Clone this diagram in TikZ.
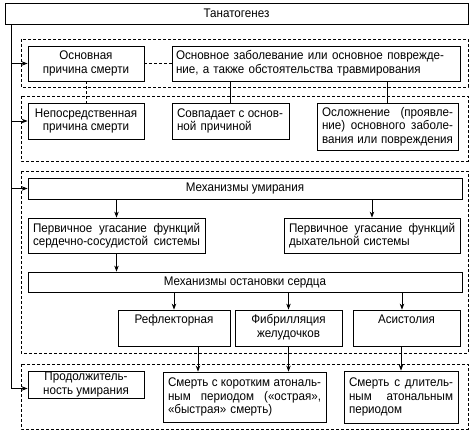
\documentclass[tikz,border=0pt]{standalone}
\usepackage{fontspec}
\setmainfont{Liberation Sans}[FakeStretch=0.93]
\usetikzlibrary{arrows.meta}
\newcommand\jl[2]{\makebox[#1][s]{\spaceskip=0.27em plus 1fil minus 0.1em\relax #2}}
\begin{document}
\begin{tikzpicture}[x=1pt,y=-1pt,
  box/.style={draw, line width=0.8pt, inner sep=0pt, font=\fontsize{12.5}{13.6}\selectfont},
  grp/.style={draw, line width=0.7pt, dash pattern=on 3pt off 2pt},
  arr/.style={line width=0.8pt, -{Stealth[length=6pt,width=4.5pt]}},
  ln/.style={line width=0.8pt},
  dln/.style={line width=0.8pt, dash pattern=on 3pt off 2pt}]
\useasboundingbox (0,0) rectangle (476,436);
% groups
\draw[grp] (21,39) rectangle (468,87);
\draw[grp] (21,96) rectangle (468,161);
\draw[grp] (21,171) rectangle (468,353);
\draw[grp] (21,364) rectangle (468,429);
% nodes
\node[box, minimum width=463pt, minimum height=21pt] (top) at (236.5,13.5) {Танатогенез};
\node[box, minimum width=116pt, minimum height=35pt, align=center] (b1) at (86,63.5) {Основная\\причина смерти};
\node[box, minimum width=288pt, minimum height=35pt, text width=280pt, align=left] (b2) at (316,63.5) {\jl{268pt}{Основное заболевание или основное поврежде-}\\ние, а также обстоятельства травмирования};
\node[box, minimum width=116pt, minimum height=36pt, align=center] (b3) at (86,121) {Непосредственная\\причина смерти};
\node[box, minimum width=117pt, minimum height=36pt, text width=107pt, align=left] (b4) at (230.5,121) {\jl{106pt}{Совпадает с основ-}\\ной причиной};
\node[box, minimum width=141pt, minimum height=47pt, text width=131pt, align=left] (b5) at (387.5,126.5) {\jl{131pt}{Осложнение (проявле-}\\\jl{131pt}{ние) основного заболе-}\\\jl{131pt}{вания или повреждения}};
\node[box, minimum width=434pt, minimum height=21pt] (m1) at (245,188.5) {Механизмы умирания};
\node[box, minimum width=177pt, minimum height=35pt, text width=167pt, align=left] (p1) at (116.5,235.5) {\jl{167pt}{Первичное угасание функций}\\\jl{167pt}{сердечно-сосудистой системы}};
\node[box, minimum width=176pt, minimum height=35pt, text width=166pt, align=left] (p2) at (372,235.5) {\jl{166pt}{Первичное угасание функций}\\дыхательной системы};
\node[box, minimum width=434pt, minimum height=20pt] (m2) at (245,282) {Механизмы остановки сердца};
\node[box, minimum width=112pt, minimum height=36pt, align=center] (r1) at (174,328) {\strut Рефлекторная\\\strut};
\node[box, minimum width=107pt, minimum height=36pt, align=center] (r2) at (288.5,328) {\strut Фибрилляция\\\strut желудочков};
\node[box, minimum width=107pt, minimum height=36pt, align=center] (r3) at (406.5,328) {\strut Асистолия\\\strut};
\node[box, minimum width=116pt, minimum height=27pt, align=center] (d1) at (86,384.5) {Продолжитель-\\ность умирания};
\node[box, minimum width=163pt, minimum height=50pt, text width=153pt, align=left] (d2) at (244.5,397) {\jl{153pt}{Смерть с коротким атональ-}\\\jl{153pt}{ным периодом («острая»,}\\«быстрая» смерть)};
\node[box, minimum width=114pt, minimum height=52pt, text width=104pt, align=left] (d3) at (401,397) {\jl{104pt}{Смерть с длитель-}\\\jl{104pt}{ным атональным}\\периодом};
% trunk
\coordinate (L) at (11,0);
\draw[ln] (top.south -| L) -- ([yshift=-4pt]d1.west -| L);
\draw[arr] (b1.west -| L) -- (b1.west);
\draw[arr] (b3.west -| L) -- (b3.west);
\draw[arr] (m1.west -| L) -- (m1.west);
\draw[arr] ([yshift=-4pt]d1.west -| L) -- ([yshift=-4pt]d1.west);
% links
\draw[dln] (b1.east) -- (b2.west);
\draw[dln] (b1.south) -- (b3.north);
\draw[ln] (b4.north |- b2.south) -- (b4.north);
\draw[ln] (b5.north |- b2.south) -- (b5.north);
\draw[arr] (p1.north |- m1.south) -- (p1.north);
\draw[arr] (p2.north |- m1.south) -- (p2.north);
\draw[arr] (p1.south) -- (p1.south |- m2.north);
\draw[arr] (r1.north |- m2.south) -- (r1.north);
\draw[arr] (r2.north |- m2.south) -- (r2.north);
\draw[arr] ([xshift=-4.5pt]r3.north |- m2.south) -- ([xshift=-4.5pt]r3.north);
\draw[arr] ([xshift=24pt]r1.south) -- ([xshift=24pt]r1.south |- d2.north);
\draw[arr] (r2.south) -- (r2.south |- d2.north);
\draw[arr] (d3.north |- r3.south) -- (d3.north);
\end{tikzpicture}
\end{document}
